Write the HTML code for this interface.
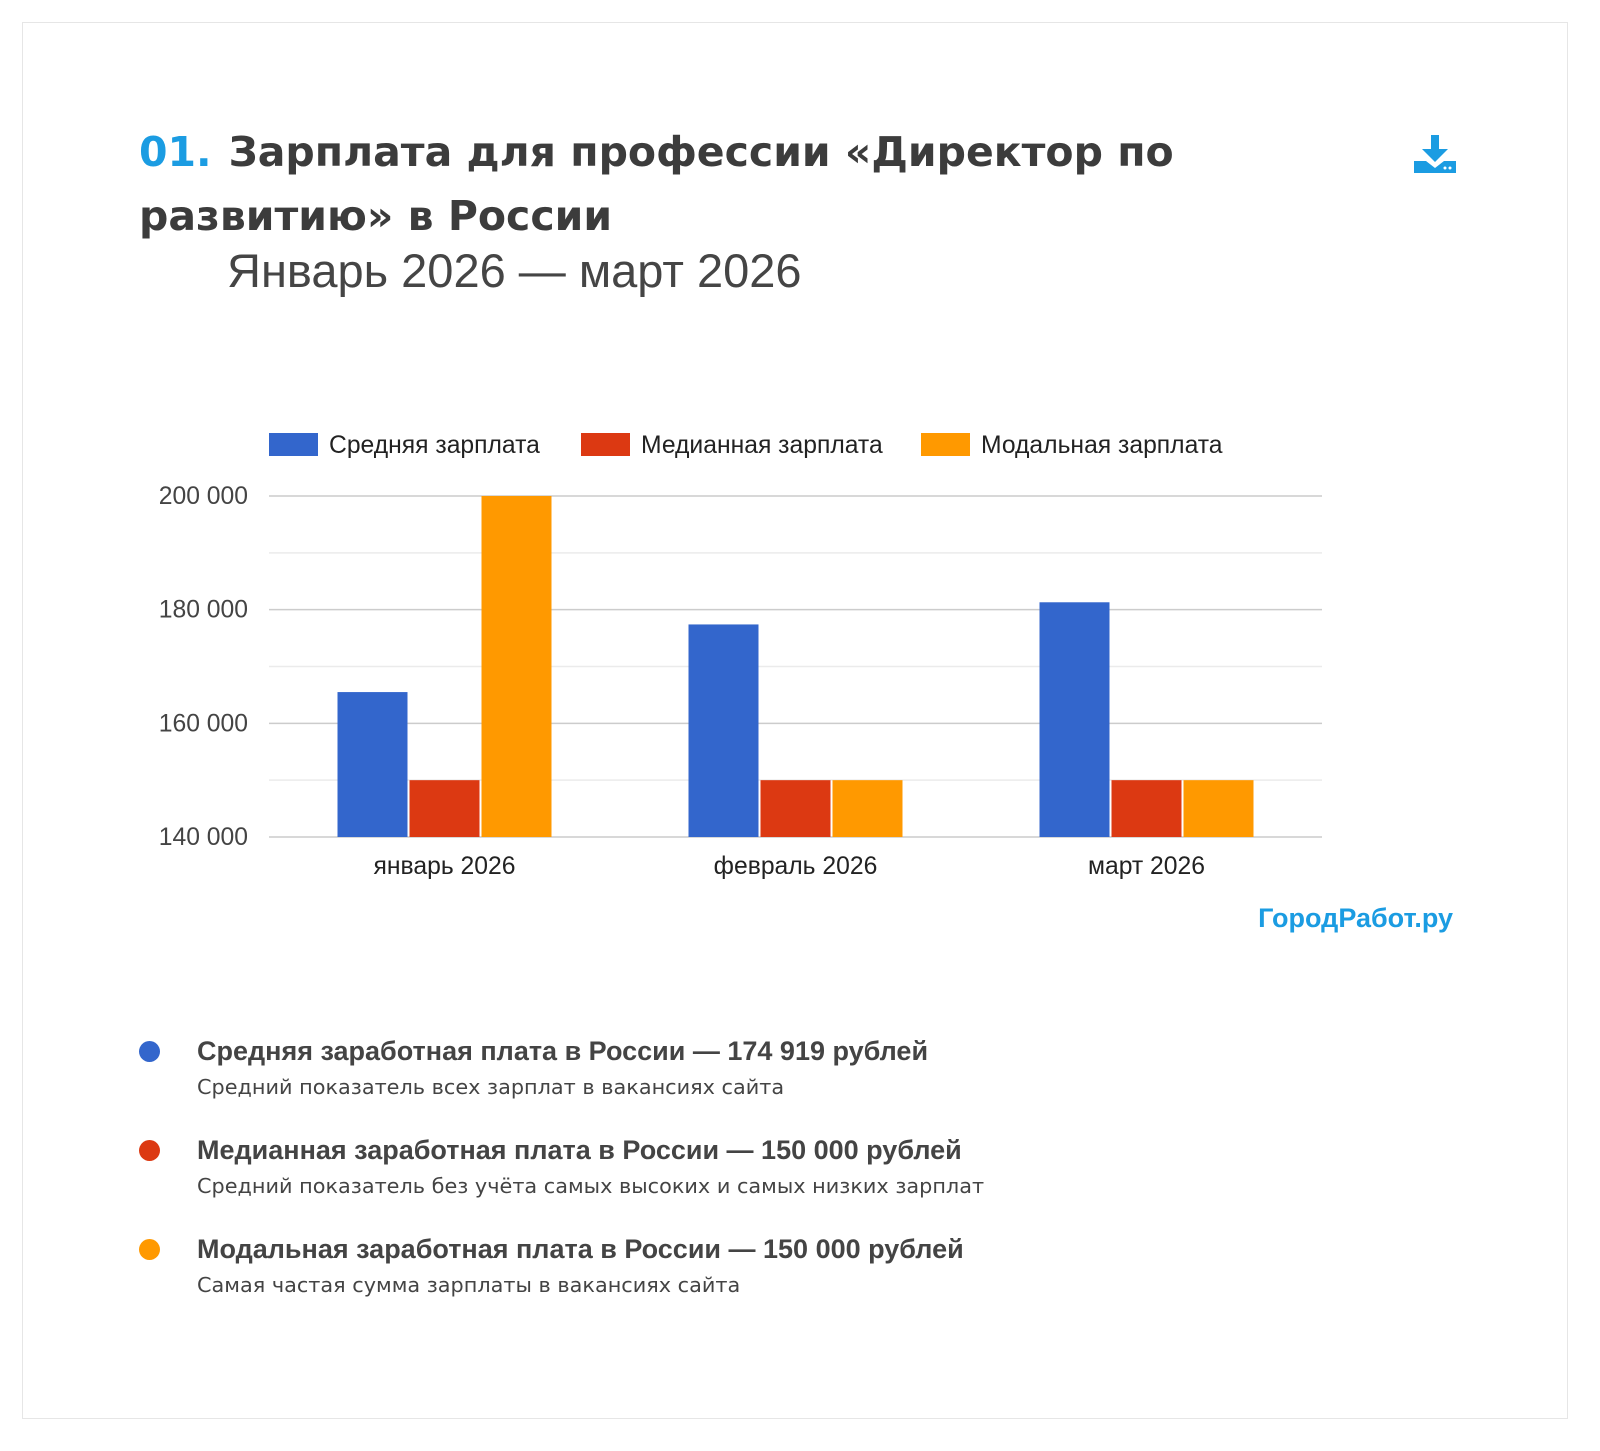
<!DOCTYPE html>
<html><head><meta charset="utf-8">
<style>
body{margin:0;width:1600px;height:1451px;background:#fff;font-family:"Liberation Sans","DejaVu Sans",sans-serif;position:relative;overflow:hidden}
.card{position:absolute;left:22px;top:22px;width:1546px;height:1397px;border:1.5px solid #e6e6e6;box-sizing:border-box}
.abs{position:absolute;white-space:nowrap}
.title{left:139px;top:120px;font-size:41px;font-weight:bold;color:#3c3c3c;line-height:64px;font-family:"DejaVu Sans","Liberation Sans",sans-serif}
.title .num{color:#1b9ce2;margin-right:17px}
.sub{left:227px;top:243px;font-size:47px;color:#454545}
.item{left:197px;color:#444}
.item .h{font-size:27px;font-weight:bold;line-height:30px}
.item .s{font-size:20.8px;line-height:30px;margin-top:6px;color:#444;font-family:"DejaVu Sans","Liberation Sans",sans-serif}
.dot{position:absolute;width:21px;height:21px;border-radius:50%;left:139px}
</style></head><body>
<div class="card"></div>
<div class="abs title"><span class="num">01.</span>Зарплата для профессии «Директор по<br>развитию» в России</div>
<div class="abs sub">Январь 2026 — март 2026</div>
<svg class="abs" style="left:1414px;top:135px" width="42" height="40" viewBox="0 0 42 40">
<rect x="17" y="0" width="8" height="16" fill="#1b9ce2"/>
<polygon points="8,14 34,14 21,27" fill="#1b9ce2"/>
<path d="M0 26 H12 L21 33 L30 26 H42 V38 H0 Z" fill="#1b9ce2"/>
<circle cx="31" cy="33" r="1.5" fill="#fff"/><circle cx="36" cy="33" r="1.5" fill="#fff"/>
</svg>
<svg id="chart" class="abs" style="left:0;top:0" width="1600" height="900"></svg>
<div class="abs" style="right:147px;top:903px;font-size:27px;font-weight:bold;color:#1b9ce2">ГородРабот.ру</div>

<div class="dot" style="top:1041px;background:#3366cc"></div>
<div class="abs item" style="top:1036px"><div class="h">Средняя заработная плата в России — 174 919 рублей</div><div class="s">Средний показатель всех зарплат в вакансиях сайта</div></div>
<div class="dot" style="top:1140px;background:#dc3912"></div>
<div class="abs item" style="top:1135px"><div class="h">Медианная заработная плата в России — 150 000 рублей</div><div class="s">Средний показатель без учёта самых высоких и самых низких зарплат</div></div>
<div class="dot" style="top:1239px;background:#ff9900"></div>
<div class="abs item" style="top:1234px"><div class="h">Модальная заработная плата в России — 150 000 рублей</div><div class="s">Самая частая сумма зарплаты в вакансиях сайта</div></div>

<script>
const categories=["январь 2026","февраль 2026","март 2026"];
const meanValues=[165500,177400,181300];
const medianValues=[150000,150000,150000];
const modalValues=[200000,150000,150000];
const seriesNames=["Средняя зарплата","Медианная зарплата","Модальная зарплата"];
const yTicks=[140000,160000,180000,200000];
const yMinor=[150000,170000,190000];
const tickLabels=["140 000","160 000","180 000","200 000"];

const NS="http://www.w3.org/2000/svg";
const svg=document.getElementById('chart');
const X0=269,X1=1322,Y0=837,Y1=496,yMin=140000,yMax=200000;
const colors=["#3366cc","#dc3912","#ff9900"];
function y(v){return Y0-(v-yMin)/(yMax-yMin)*(Y0-Y1);}
const slot=(X1-X0)/categories.length;
function cx(i){return X0+slot*(i+0.5);}
function mk(t,a){const e=document.createElementNS(NS,t);for(const k in a)e.setAttribute(k,a[k]);svg.appendChild(e);return e;}
yMinor.forEach(v=>{
  const l=mk('line',{x1:X0,x2:X1,y1:y(v),y2:y(v),stroke:'#ebebeb','stroke-width':1.5});
  
  
});
yTicks.forEach((v,i)=>{
  const l=mk('line',{x1:X0,x2:X1,y1:y(v),y2:y(v),stroke:'#cccccc','stroke-width':1.5});
  
  
  const t=mk('text',{x:248,y:y(v)+8,'text-anchor':'end','font-size':24.7,fill:'#444'});
  t.textContent=tickLabels[i];
  
  
});
const series=[meanValues,medianValues,modalValues];
const bw=70,gap=2;
categories.forEach((c,i)=>{
  series.forEach((s,j)=>{
    const x=cx(i)-(3*bw+2*gap)/2+j*(bw+gap);
    const r=mk('rect',{x:x,y:y(s[i]),width:bw,height:Y0-y(s[i]),fill:colors[j]});
    
    
  });
  const t=mk('text',{x:cx(i),y:874,'text-anchor':'middle','font-size':24.7,fill:'#222'});
  t.textContent=c;
  
  
});
const lx=[269,581,921];
seriesNames.forEach((n,j)=>{
  const r=mk('rect',{x:lx[j],y:433,width:49,height:23,fill:colors[j]});
  
  
  const t=mk('text',{x:lx[j]+60,y:453,'font-size':24.7,fill:'#222'});
  t.textContent=n;
  
  
});
</script>
</body></html>
